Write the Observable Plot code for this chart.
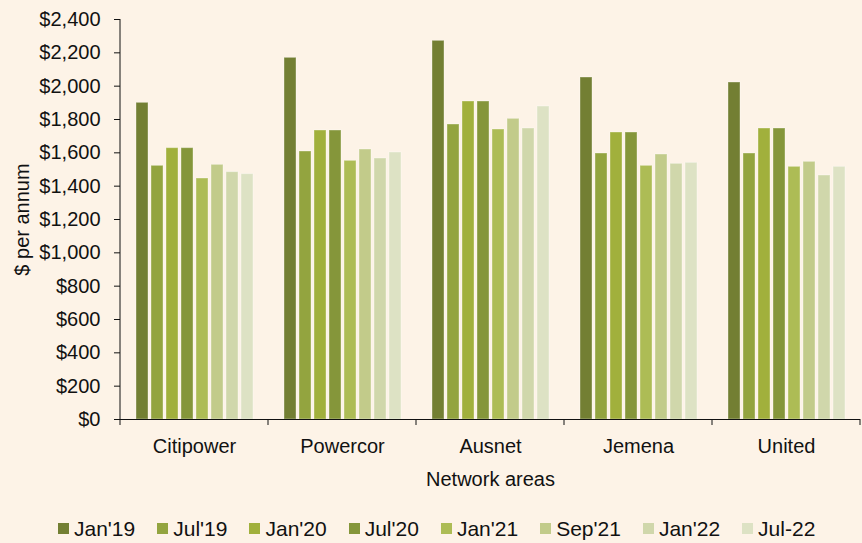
<!DOCTYPE html>
<html>
<head>
<meta charset="utf-8">
<script src="https://cdn.jsdelivr.net/npm/d3@7"></script>
<script src="https://cdn.jsdelivr.net/npm/@observablehq/plot@0.6"></script>
<style>
  html, body { margin: 0; padding: 0; background: #fdf3e7; }
  body { width: 862px; height: 543px; overflow: hidden; font-family: "Liberation Sans", Arial, sans-serif; }
  #chart svg { display: block; }
  div.lg-swatches { margin-left: 58px; margin-top: 12px; font-size: 21px; color: #111; font-family: "Liberation Sans", Arial, sans-serif; }
  div.lg-swatches span.lg-swatch { margin-right: 22px; }
  div.lg-swatches span.lg-swatch > svg { margin-right: 5px; }
</style>
</head>
<body>
<div id="chart"></div>
<script>
const categories = ["Citipower", "Powercor", "Ausnet", "Jemena", "United"];
const series = ["Jan'19", "Jul'19", "Jan'20", "Jul'20", "Jan'21", "Sep'21", "Jan'22", "Jul-22"];
const colors = ["#737f33", "#93a43f", "#a1b03c", "#85963a", "#adbc55", "#c2cb8a", "#d0d7ab", "#dde2c4"];
const citipower = [1900, 1522, 1628, 1628, 1446, 1528, 1484, 1472];
const powercor  = [2170, 1608, 1734, 1734, 1552, 1620, 1566, 1602];
const ausnet    = [2272, 1770, 1908, 1908, 1740, 1804, 1746, 1878];
const jemena    = [2052, 1596, 1722, 1722, 1522, 1590, 1534, 1540];
const united    = [2022, 1596, 1746, 1746, 1516, 1546, 1464, 1516];
const yTicks = [0, 200, 400, 600, 800, 1000, 1200, 1400, 1600, 1800, 2000, 2200, 2400];

const valuesByCategory = [citipower, powercor, ausnet, jemena, united];
const data = categories.flatMap((c, i) =>
  series.map((s, j) => ({category: c, series: s, value: valuesByCategory[i][j]}))
);

const fmt = d3.format(",");
const plot = Plot.plot({
  width: 862,
  height: 500,
  marginTop: 19,
  marginLeft: 120,
  marginRight: 2,
  marginBottom: 81,
  style: {background: "transparent", fontFamily: "'Liberation Sans', Arial, sans-serif", fontSize: "20px", color: "#111", overflow: "visible"},
  fx: {domain: categories, padding: 0, axis: "bottom", tickSize: 0, tickPadding: 19,
       label: "Network areas", labelAnchor: "center", labelOffset: 66, labelArrow: "none"},
  x: {domain: series, axis: null, paddingInner: 0.2, paddingOuter: 0.85},
  y: {domain: [0, 2400], ticks: yTicks, tickSize: 6, tickPadding: 14,
      tickFormat: d => "$" + fmt(d), label: "$ per annum", labelAnchor: "center", labelOffset: 106, labelArrow: "none"},
  color: {domain: series, range: colors},
  marks: [
    Plot.barY(data, {fx: "category", x: "series", y: "value", fill: "series",
                     stroke: "#ffffff", strokeOpacity: 0.35, strokeWidth: 1}),
    Plot.ruleY([0], {stroke: "#111", strokeWidth: 1})
  ]
});

// y-axis line and category boundary ticks, positioned with the plot's own scales
const fxS = plot.scale("fx");
const yS = plot.scale("y");
const svg = d3.select(plot);
const g = svg.append("g").attr("stroke", "#111").attr("stroke-width", 1);
const x0 = fxS.apply(categories[0]);
g.append("line").attr("x1", x0).attr("x2", x0).attr("y1", yS.apply(2400)).attr("y2", yS.apply(0));
const bounds = categories.map(c => fxS.apply(c)).concat([fxS.apply(categories[categories.length - 1]) + fxS.bandwidth]);
bounds.forEach(b => {
  g.append("line").attr("x1", b).attr("x2", b).attr("y1", yS.apply(0)).attr("y2", yS.apply(0) + 6);
});

document.getElementById("chart").appendChild(plot);

const legend = Plot.legend({
  color: {domain: series, range: colors},
  legend: "swatches",
  swatchSize: 11,
  className: "lg",
  style: {background: "transparent"}
});
document.getElementById("chart").appendChild(legend);
</script>
</body>
</html>
